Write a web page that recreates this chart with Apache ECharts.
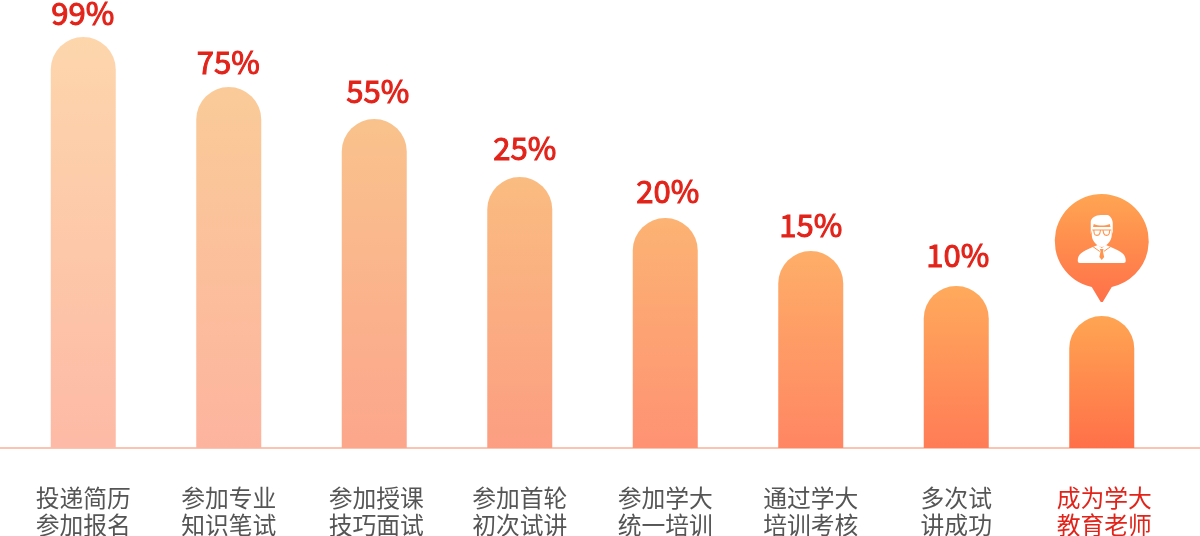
<!DOCTYPE html>
<html><head><meta charset="utf-8">
<style>html,body{margin:0;padding:0;background:#fff}#c{width:1200px;height:536px}</style>
<script src="https://cdn.jsdelivr.net/npm/echarts@6/dist/echarts.min.js"></script></head>
<body><div id="c"></div>
<script>
const categories = ['投递简历\n参加报名','参加专业\n知识笔试','参加授课\n技巧面试','参加首轮\n初次试讲','参加学大\n统一培训','通过学大\n培训考核','多次试\n讲成功','成为学大\n教育老师'];
const barHeights = [411,361,329,271,230,197,162,132];
const percentLabels = ['99%','75%','55%','25%','20%','15%','10%',''];
const topColors = ['#FDD6AC','#FACB98','#F9C28C','#FABC80','#FCB373','#FEAE68','#FFAA5C','#FFA552'];
const bottomColors = ['#FDBAA6','#FDB49F','#FCA68C','#FC9E82','#FE9273','#FF8663','#FF7C56','#FF7049'];
const labelShiftX = [-0.5,-0.5,3.5,5,2.5,0,1.5,0];
const labelGap = [8,9,12,13,11,10,15,7];
const categoryPadLeft = [0,0,4,0,0,0,0,5];
const RED = '#E2231A', GREY = '#555555', LINE = '#FBC3B2';
const grad = (a,b)=>({type:'linear',x:0,y:0,x2:0,y2:1,colorStops:[{offset:0,color:a},{offset:1,color:b}]});
const chart = echarts.init(document.getElementById('c'),null,{renderer:'canvas'});
const FONT = '"Noto Sans CJK SC","Noto Sans",sans-serif';
chart.setOption({
  animation:false,
  grid:[
    {left:10.5,width:1164,top:0,height:448,outerBoundsMode:'none'},
    {left:0,width:1200,top:0,height:448,outerBoundsMode:'none'}
  ],
  xAxis:[
    {type:'category',gridIndex:0,data:categories.map((c,i)=>({value:c,textStyle:{color:i===7?RED:GREY,padding:[0,0,0,categoryPadLeft[i]]}})),
     axisLine:{show:false},axisTick:{show:false},
     axisLabel:{interval:0,margin:36,color:GREY,fontSize:23.8,lineHeight:27,fontFamily:FONT,hideOverlap:false}},
    {type:'category',gridIndex:1,data:[],axisLine:{show:true,lineStyle:{color:LINE,width:2}},axisTick:{show:false},axisLabel:{show:false}}
  ],
  yAxis:[
    {type:'value',gridIndex:0,min:0,max:448,show:false},
    {type:'value',gridIndex:1,min:0,max:448,show:false}
  ],
  series:[
    {type:'bar',xAxisIndex:0,yAxisIndex:0,barWidth:65,z:3,
     data:barHeights.map((v,i)=>({value:v,itemStyle:{color:grad(topColors[i],bottomColors[i]),borderRadius:[32.5,32.5,0,0]},
       label:{show:!!percentLabels[i],formatter:percentLabels[i],distance:labelGap[i],offset:[labelShiftX[i],0]}})),
     label:{position:'top',color:RED,fontSize:31,fontFamily:FONT,textBorderColor:RED,textBorderWidth:1}},
    {type:'custom',xAxisIndex:0,yAxisIndex:0,z:4,silent:true,data:[[7,barHeights[7]]],
     renderItem:(params,api)=>{
       const p = api.coord([api.value(0),api.value(1)]);
       const W = '#ffffff', O = '#FF954F';
       return {type:'group',x:p[0],y:p[1]-75,children:[
         {type:'path',shape:{pathData:'M-10,46 A47,47 0 1 1 10,46 L1,61 L-1,61 Z'},style:{fill:grad('#FFA552','#FF7049')}},
         // shoulders
         {type:'path',shape:{pathData:'M-24,20 C-24,13 -20,11 -9,6 L-4,4 L0,7 L4,4 L9,6 C20,11 24,13 24,20 Q24,22 22,22 L-22,22 Q-24,22 -24,20 Z'},style:{fill:W}},
         // tie
         {type:'path',shape:{pathData:'M-1.8,8 L1.8,8 L1.2,10.5 L2.4,16 L0,19 L-2.4,16 L-1.2,10.5 Z'},style:{fill:O}},
         {type:'path',shape:{pathData:'M-9,5.5 L-2,10.5 M9,5.5 L2,10.5'},style:{fill:'none',stroke:O,lineWidth:1}},
         // face
         {type:'path',shape:{pathData:'M-10,-14 L-10,-6 C-10,0 -4,6 0,6 C4,6 10,0 10,-6 L10,-14 Z'},style:{fill:W}},
         // hair
         {type:'path',shape:{pathData:'M-11,-7 L-11,-19 C-11,-23 -6,-26 -1,-26 L6,-26 C9,-25 11,-21 11,-18 L11,-7 L9,-13 L8,-17 C3,-15 -3,-15 -8,-17 L-9,-13 Z'},style:{fill:W}},
         // glasses
         {type:'path',shape:{pathData:'M-9.5,-11 L9.5,-11 M-8,-11 L-7.5,-7.5 C-7,-5 -3,-5 -2,-7.5 L-1.2,-11 M8,-11 L7.5,-7.5 C7,-5 3,-5 2,-7.5 L1.2,-11'},style:{fill:'none',stroke:O,lineWidth:1.1}}
       ]};
     }}
  ]
});
</script></body></html>
